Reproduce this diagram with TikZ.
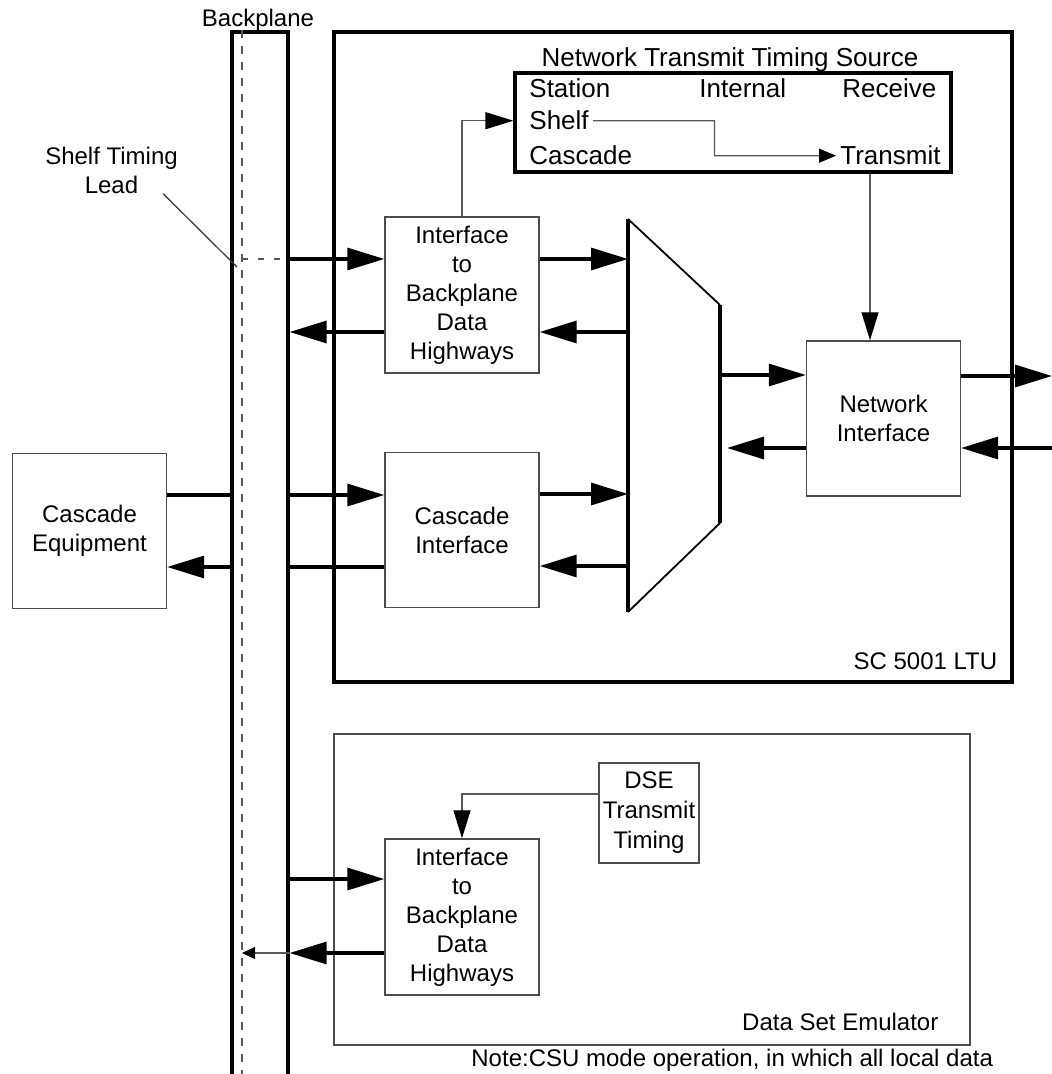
\documentclass[tikz,border=0pt]{standalone}
\usepackage{fontspec}
\setmainfont{Liberation Sans}
\usetikzlibrary{arrows.meta,calc}

\begin{document}
\begin{tikzpicture}[x=0.5pt,y=-0.5pt, every node/.style={font=\fontsize{12}{14.5}\selectfont}]
\tikzset{block/.style = {shape=rectangle,draw=black!70,line width=0.7pt,minimum width=77pt,minimum height=77.5pt,align=center,inner sep=0pt}}
\tikzset{frame/.style = {shape=rectangle,draw,line width=1.6pt,inner sep=0pt}}
\tikzset{bus/.style = {line width=1.6pt,-{Triangle[length=18.5pt,width=11pt]}}}
\tikzset{wire/.style = {line width=1.6pt}}
\tikzset{ctrl/.style = {draw=black!65,line width=0.6pt,-{Triangle[length=14pt,width=8.5pt,color=black]}}}
\tikzset{ctrlsmall/.style = {draw=black!65,line width=0.6pt,-{Triangle[length=8.5pt,width=7pt,color=black]}}}
\tikzset{lead/.style = {draw=black!65,line width=0.6pt,dash pattern=on 4pt off 4pt}}
\tikzset{txt/.style = {inner sep=2pt,font=\fontsize{13}{15}\selectfont}}
\useasboundingbox (0,0) rectangle (1052,1074);
% frames
\node[frame,minimum width=28pt,minimum height=555pt] (bp) at (260,587) {};
\node[anchor=base,inner sep=0pt] (bplbl) at ([xshift=-1pt,yshift=2pt]bp.north) {Backplane};
\node[frame,minimum width=339pt,minimum height=325pt] (sc) at (673,357) {};
\node[anchor=base east,inner sep=0pt] (sclbl) at ([xshift=-8pt,yshift=7pt]sc.south east) {SC 5001 LTU};
\node[draw=black!70,line width=0.7pt,minimum width=318pt,minimum height=155.5pt] (dse) at (652,889.5) {};
\node[anchor=base east,inner sep=0pt] (dselbl) at ([xshift=-16pt,yshift=7.5pt]dse.south east) {Data Set Emulator};

% timing source
\node[frame,minimum width=218pt,minimum height=49.5pt] (ntts) at (733,122.5) {};
\node[txt,anchor=base,inner sep=0pt] (nttslbl) at (730,67) {Network Transmit Timing Source};
\node[txt,anchor=base west] (station) at (525,98) {Station};
\node[txt,anchor=base west] (internal) at (695,98) {Internal};
\node[txt,anchor=base west] (receive) at (838,98) {Receive};
\node[txt,anchor=base west] (shelf) at (525,130) {Shelf};
\node[txt,anchor=base west] (cascade) at (525,165) {Cascade};
\node[txt,anchor=base west] (transmit) at (836,165) {Transmit};

% blocks
\node[block,minimum height=78pt] (ibdhA) at (462,295) {Interface\\to\\Backplane\\Data\\Highways};
\node[block] (ci) at (462,530) {Cascade\\Interface};
\node[block] (ni) at (883.5,418.5) {Network\\Interface};
\node[block] (ce) at (89.5,531) {Cascade\\Equipment};
\node[block,minimum width=50pt,minimum height=50pt,font=\fontsize{12}{15}\selectfont] (dtt) at (649,813) {DSE\\Transmit\\Timing};
\node[block,minimum height=78pt] (ibdhB) at (462,917) {Interface\\to\\Backplane\\Data\\Highways};
\node[align=center,inner sep=2pt] (stl) at (111.5,170) {Shelf Timing\\Lead};
\node[anchor=base west,inner sep=0pt] (note) at (471,1066) {Note:CSU mode operation, in which all local data};

% mux
\coordinate (muxTL) at (628,219);
\coordinate (muxTR) at (720,305);
\coordinate (muxBR) at (720,523);
\coordinate (muxBL) at (628,612);
\draw[wire] (muxTL) -- (muxBL);
\draw[wire] (muxTR) -- (muxBR);
\draw[line width=0.9pt] (muxTL) -- (muxTR) (muxBL) -- (muxBR);

% shelf timing lead
\coordinate (leadtop) at ([xshift=-9pt]bp.north);
\coordinate (leadpt) at (237,267);
\draw[lead] (leadtop) -- (leadtop |- bp.south);
\draw[black!80,line width=0.6pt] ([xshift=-9.5pt,yshift=2pt]stl.south east) -- (leadpt);

%edges
\coordinate (a1) at ([yshift=18pt]ibdhA.west);
\coordinate (a2) at ([yshift=-18.5pt]ibdhA.west);
\coordinate (a3) at ([yshift=18pt]ibdhA.east);
\coordinate (a4) at ([yshift=-18.5pt]ibdhA.east);
\draw[lead,dash pattern=on 3pt off 5pt] (leadtop |- a1) -- (bp.east |- a1);
\draw[bus] (bp.east |- a1) -- (a1);
\draw[bus] (a2) -- (bp.east |- a2);
\draw[bus] (a3) -- (muxTL |- a3);
\draw[bus] (muxTL |- a4) -- (a4);
\draw[ctrl] (ibdhA.north) |- (ntts.west |- shelf.west);

\coordinate (c1) at ([yshift=17.5pt]ci.west);
\coordinate (c2) at ([yshift=-18.5pt]ci.west);
\coordinate (c3) at ([yshift=18pt]ci.east);
\coordinate (c4) at ([yshift=-18pt]ci.east);
\draw[bus] (bp.east |- c1) -- (c1);
\draw[wire] (c2) -- (bp.east |- c2);
\draw[bus] (c3) -- (muxBL |- c3);
\draw[bus] (muxBL |- c4) -- (c4);
\draw[wire] (ce.east |- c1) -- (bp.west |- c1);
\draw[bus] (bp.west |- c2) -- (ce.east |- c2);

\coordinate (n1) at ([yshift=21.75pt]ni.west);
\coordinate (n2) at ([yshift=-14.75pt]ni.west);
\coordinate (n3) at ([yshift=21.25pt]ni.east);
\coordinate (n4) at ([yshift=-14.75pt]ni.east);
\coordinate (trunk) at (1052,418.5);
\draw[bus] (muxTR |- n1) -- (n1);
\draw[bus] (n2) -- ($(muxTR |- n2)+(7,0)$);
\draw[bus] (n3) -- (trunk |- n3);
\draw[bus] (trunk |- n4) -- (n4);

\coordinate (tx) at ([xshift=-6.75pt]ni.north);
\draw[ctrl] (ntts.south -| tx) -- (tx);
\draw[ctrlsmall] (shelf.east) -- ($(shelf.east)!.5!(shelf.east -| transmit.west)$) |- (transmit.west);

\coordinate (d1) at ([yshift=19pt]ibdhB.west);
\coordinate (d2) at ([yshift=-18pt]ibdhB.west);
\draw[bus] (bp.east |- d1) -- (d1);
\draw[bus] (d2) -- (bp.east |- d2);
\draw[draw=black!65,line width=0.6pt,-{Triangle[length=6.5pt,width=6pt,color=black]}] (bp.east |- d2) -- (leadtop |- d2);
\draw[ctrl] ([yshift=9.5pt]dtt.west) -| (ibdhB.north);

\end{tikzpicture}
\end{document}
